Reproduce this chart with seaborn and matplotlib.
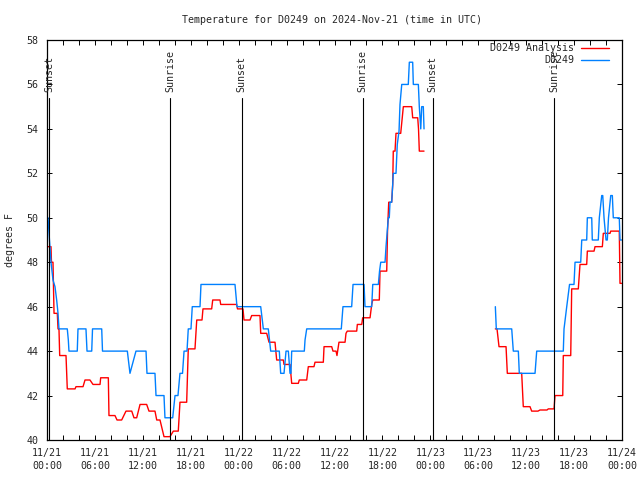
import numpy as np
import pandas as pd
import matplotlib
matplotlib.use("Agg")
import matplotlib.pyplot as plt
import matplotlib.transforms as mtransforms
from matplotlib.ticker import MultipleLocator
import seaborn as sns

# ---------------- data (hours since 2024-11-21 00:00 UTC) ----------------
obs_hours_1 = [0.00, 0.13, 0.31, 0.50, 0.75, 1.00, 1.21, 1.38, 1.50, 2.54, 2.67, 2.75,
               3.79, 3.88, 4.88, 5.01, 5.60, 5.70, 6.85, 6.95, 10.06, 10.39, 11.14,
               12.40, 12.52, 13.52, 13.65, 14.65, 14.77, 15.74, 16.03, 16.40, 16.65,
               16.97, 17.16, 17.53, 17.69, 18.03, 18.19, 19.16, 19.28, 23.54, 23.79,
               26.76, 27.09, 27.71, 27.86, 28.01, 29.09, 29.26, 29.68, 29.93, 30.22,
               30.43, 30.55, 30.64, 32.22, 32.31, 32.52, 36.85, 37.06, 38.15, 38.32,
               39.70, 39.82, 40.66, 40.79, 41.49, 41.64, 41.79, 42.33, 42.45, 42.74,
               42.86, 42.95, 43.16, 43.29, 43.36, 43.70, 43.86, 44.08, 44.20, 44.42,
               45.24, 45.37, 45.79, 45.87, 46.50, 46.62, 46.80, 46.92, 47.12, 47.21]
obs_temps_1 = [50.0, 50.0, 49.0, 48.0, 47.2, 46.9, 46.3, 45.7, 45.0, 45.0, 44.5, 44.0,
               44.0, 45.0, 45.0, 44.0, 44.0, 45.0, 45.0, 44.0, 44.0, 43.0, 44.0,
               44.0, 43.0, 43.0, 42.0, 42.0, 41.0, 41.0, 42.0, 42.0, 43.0,
               43.0, 44.0, 44.0, 45.0, 45.0, 46.0, 46.0, 47.0, 47.0, 46.0,
               46.0, 45.0, 45.0, 44.5, 44.0, 44.0, 43.0, 43.0, 44.0, 44.0,
               43.0, 43.0, 44.0, 44.0, 44.5, 45.0, 45.0, 46.0, 46.0, 47.0,
               47.0, 46.0, 46.0, 47.0, 47.0, 47.6, 48.0, 48.0, 48.7, 50.0,
               50.0, 50.7, 50.7, 51.5, 52.0, 52.0, 53.3, 53.9, 55.1, 56.0,
               56.0, 57.0, 57.0, 56.0, 56.0, 55.0, 54.0, 55.0, 55.0, 54.0]

obs_hours_2 = [56.14, 56.26, 58.19, 58.39, 59.02, 59.14, 61.11, 61.32, 64.65, 64.74,
               65.08, 65.43, 65.99, 66.12, 66.83, 66.96, 67.58, 67.66, 68.21, 68.28,
               69.03, 69.16, 69.46, 69.59, 69.75, 70.00, 70.16, 70.31, 70.59, 70.79,
               70.91, 71.66, 71.75, 71.94]
obs_temps_2 = [46.0, 45.0, 45.0, 44.0, 44.0, 43.0, 43.0, 44.0, 44.0, 45.0,
               46.0, 47.0, 47.0, 48.0, 48.0, 49.0, 49.0, 50.0, 50.0, 49.0,
               49.0, 50.0, 51.0, 51.0, 50.0, 49.0, 49.0, 50.0, 51.0, 51.0,
               50.0, 50.0, 49.0, 49.0]

ana_hours_1 = [0.00, 0.50, 0.56, 0.75, 0.88, 1.29, 1.38, 1.50, 1.59, 2.38, 2.54, 3.51,
               3.63, 4.51, 4.76, 5.38, 5.76, 6.64, 6.72, 7.68, 7.76, 8.51, 8.77, 9.35,
               9.89, 10.61, 10.89, 11.23, 11.65, 12.48, 12.77, 13.52, 13.74, 14.15,
               14.65, 15.40, 15.82, 16.44, 16.65, 17.49, 17.69, 18.53, 18.75, 19.41,
               19.53, 20.62, 20.75, 21.66, 21.75, 23.75, 23.85, 24.54, 24.67, 25.42,
               25.63, 26.67, 26.76, 27.51, 27.80, 28.55, 28.76, 29.59, 29.68, 30.43,
               30.64, 31.47, 31.59, 32.52, 32.72, 33.43, 33.56, 34.60, 34.69, 35.65,
               35.81, 36.19, 36.31, 36.56, 37.32, 37.44, 37.60, 38.78, 38.86, 39.41,
               39.53, 40.45, 40.66, 40.79, 41.61, 41.70, 42.54, 42.64, 42.79, 43.16,
               43.29, 43.36, 43.58, 43.70, 44.29, 44.62, 45.67, 45.79, 46.42, 46.52,
               46.62, 47.21]
ana_temps_1 = [48.7, 48.7, 48.0, 48.0, 45.7, 45.7, 45.0, 45.0, 43.8, 43.8, 42.3, 42.3,
               42.4, 42.4, 42.7, 42.7, 42.5, 42.5, 42.8, 42.8, 41.1, 41.1, 40.9, 40.9,
               41.3, 41.3, 41.0, 41.0, 41.6, 41.6, 41.3, 41.3, 40.9, 40.9,
               40.15, 40.15, 40.4, 40.4, 41.7, 41.7, 44.1, 44.1, 45.4, 45.4,
               45.9, 45.9, 46.3, 46.3, 46.1, 46.1, 45.9, 45.9, 45.4, 45.4,
               45.6, 45.6, 44.8, 44.8, 44.4, 44.4, 43.6, 43.6, 43.4, 43.4,
               42.55, 42.55, 42.7, 42.7, 43.3, 43.3, 43.5, 43.5, 44.2, 44.2,
               44.0, 44.0, 43.8, 44.4, 44.4, 44.8, 44.9, 44.9, 45.2, 45.2,
               45.5, 45.5, 46.1, 46.3, 46.3, 47.6, 47.6, 49.4, 50.7, 50.7,
               51.5, 53.0, 53.0, 53.8, 53.8, 55.0, 55.0, 54.5, 54.5, 54.0,
               53.0, 53.0]

ana_hours_2 = [56.14, 56.35, 56.60, 57.48, 57.64, 59.44, 59.64, 60.48, 60.69, 61.48,
               61.73, 62.61, 62.77, 63.49, 63.61, 64.58, 64.65, 65.58, 65.70, 66.53,
               66.74, 67.58, 67.66, 68.50, 68.62, 69.54, 69.66, 70.50, 70.59, 71.66,
               71.75, 71.94]
ana_temps_2 = [45.0, 45.0, 44.2, 44.2, 43.0, 43.0, 41.5, 41.5, 41.3, 41.3,
               41.35, 41.35, 41.4, 41.4, 42.0, 42.0, 43.8, 43.8, 46.8, 46.8,
               47.9, 47.9, 48.5, 48.5, 48.7, 48.7, 49.3, 49.3, 49.4, 49.4,
               47.05, 47.05]

event_hours = [0.25, 15.40, 24.38, 39.53, 48.29, 63.53]
event_labels = ["Sunset", "Sunrise", "Sunset", "Sunrise", "Sunset", "Sunrise"]

x_tick_hours = [0, 6, 12, 18, 24, 30, 36, 42, 48, 54, 60, 66, 72]
x_tick_labels = ["11/21\n00:00", "11/21\n06:00", "11/21\n12:00", "11/21\n18:00",
                 "11/22\n00:00", "11/22\n06:00", "11/22\n12:00", "11/22\n18:00",
                 "11/23\n00:00", "11/23\n06:00", "11/23\n12:00", "11/23\n18:00",
                 "11/24\n00:00"]
y_ticks = [40, 42, 44, 46, 48, 50, 52, 54, 56, 58]

series_names = ["D0249 Analysis", "D0249"]
title = "Temperature for D0249 on 2024-Nov-21 (time in UTC)"

# ---------------- build long table ----------------
frames = []
for name, seg, hrs, tmp in [
    ("D0249 Analysis", 0, ana_hours_1, ana_temps_1),
    ("D0249 Analysis", 1, ana_hours_2, ana_temps_2),
    ("D0249", 0, obs_hours_1, obs_temps_1),
    ("D0249", 1, obs_hours_2, obs_temps_2),
]:
    frames.append(pd.DataFrame({"hour": hrs, "temp": tmp, "series": name, "seg": seg}))
df = pd.concat(frames, ignore_index=True)

# ---------------- style ----------------
sns.set_style("ticks")
plt.rcParams["font.family"] = ["DejaVu Sans Mono"]
FS = 7.2

fig = plt.figure(figsize=(6.4, 4.8), dpi=100)
ax = fig.add_axes([47 / 640, 40 / 480, 575 / 640, 400 / 480])

sns.lineplot(data=df, x="hour", y="temp", hue="series", units="seg",
             estimator=None, sort=False, hue_order=series_names,
             palette={"D0249 Analysis": "#ff0000", "D0249": "#0080ff"},
             linewidth=1.0, ax=ax)

ax.set_xlim(0, 72)
ax.set_ylim(40, 58)
ax.set_xticks(x_tick_hours)
ax.set_xticklabels(x_tick_labels, fontsize=FS, linespacing=1.35)
ax.xaxis.set_minor_locator(MultipleLocator(2))
ax.set_yticks(y_ticks)
ax.set_yticklabels([str(v) for v in y_ticks], fontsize=FS)
ax.tick_params(axis="both", which="both", direction="in", length=3.5, width=0.7,
               top=True, right=True, color="black")
ax.tick_params(axis="x", which="major", pad=6)
ax.tick_params(axis="y", which="major", pad=6)
for sp in ax.spines.values():
    sp.set_visible(True)
    sp.set_linewidth(0.9)
    sp.set_color("black")

ax.set_xlabel("")
ax.set_ylabel("degrees F", fontsize=FS)
ax.yaxis.set_label_coords(-0.056, 0.5)

# sunrise / sunset markers
trans = mtransforms.blended_transform_factory(ax.transData, ax.transAxes)
for h, lab in zip(event_hours, event_labels):
    ax.axvline(h, ymin=0, ymax=0.855, color="black", linewidth=0.8)
    ax.text(h, 0.87, lab, transform=trans, rotation=90, ha="center", va="bottom",
            fontsize=FS)

# legend gnuplot-style (text then line sample, right-aligned)
handles, labels = ax.get_legend_handles_labels()
ax.legend(handles, labels, loc="upper right", bbox_to_anchor=(0.978, 0.992),
          frameon=False, markerfirst=False, fontsize=FS, handlelength=2.8,
          handletextpad=0.7, labelspacing=0.2, borderpad=0, borderaxespad=0)

fig.text(332 / 640, 1 - 20 / 480, title, ha="center", va="center", fontsize=FS)

fig.savefig("out.png", dpi=100)
